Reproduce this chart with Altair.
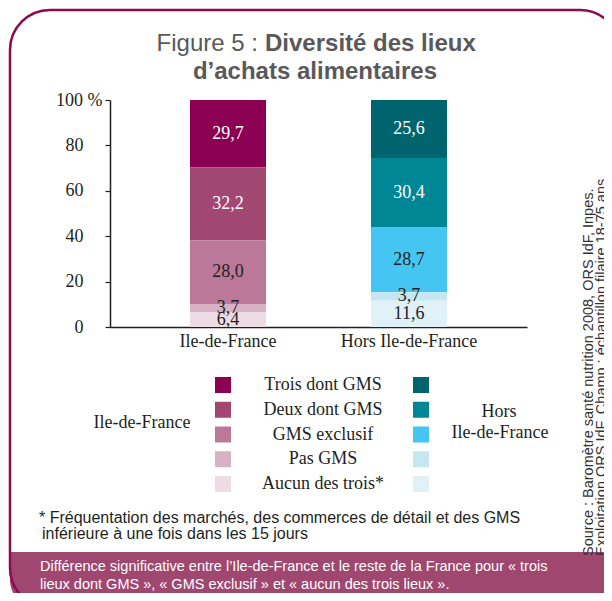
import altair as alt
import pandas as pd

# ---------------- data ----------------
REGIONS = ["Ile-de-France", "Hors Ile-de-France"]
CATEGORIES = ["Trois dont GMS", "Deux dont GMS", "GMS exclusif", "Pas GMS", "Aucun des trois*"]
IDF_VALUES = [29.7, 32.2, 28.0, 3.7, 6.4]
HORS_VALUES = [25.6, 30.4, 28.7, 3.7, 11.6]
IDF_COLORS = ["#8B0052", "#A14872", "#BC7898", "#D8B2C4", "#EEDCE4"]
HORS_COLORS = ["#00646E", "#008695", "#45C6F2", "#C6E6F0", "#E0F1F8"]
Y_TICKS = [0, 20, 40, 60, 80, 100]

TITLE_REG = "Figure 5 :"
TITLE_BOLD_1 = "Diversité des lieux"
TITLE_BOLD_2 = "d’achats alimentaires"
FOOT_1 = "* Fréquentation des marchés, des commerces de détail et des GMS"
FOOT_2 = "inférieure à une fois dans les 15 jours"
BAND_1 = "Différence significative entre l’Ile-de-France et le reste de la France pour « trois"
BAND_2 = "lieux dont GMS », « GMS exclusif » et « aucun des trois lieux »."
SOURCE_1 = "Source : Baromètre santé nutrition 2008, ORS IdF, Inpes."
SOURCE_2 = "Exploitation ORS IdF. Champ : échantillon filaire 18-75 ans"

rows = []
for region, vals in zip(REGIONS, [IDF_VALUES, HORS_VALUES]):
    for i, (cat, v) in enumerate(zip(CATEGORIES, vals)):
        rows.append({"region": region, "cat": cat, "value": v,
                     "rank": len(CATEGORIES) - 1 - i, "key": region + "|" + cat})
df = pd.DataFrame(rows)

color_scale = alt.Scale(domain=[r + "|" + c for r in REGIONS for c in CATEGORIES],
                        range=IDF_COLORS + HORS_COLORS)

# ---------------- layout ----------------
W, H = 417, 227
OX, OY = 110, 100  # page position of the plot origin
TOTAL_W, TOTAL_H = 596, 585


def px(x):
    return x - OX


def py(y):
    return y - OY


SERIF = "Liberation Serif"
SANS = "Liberation Sans"
DARK = "#231F20"
FRAME = "#8B0A50"
BAND = "#A0476F"

one = pd.DataFrame({"d": [0]})


def txt(text, x, y, font=SANS, size=14, color=DARK, align="left", baseline="middle",
        weight="normal", angle=0):
    kw = dict(font=font, fontSize=size, color=color, align=align, baseline=baseline,
              fontWeight=weight)
    if angle:
        kw["angle"] = angle
    return alt.Chart(one).mark_text(**kw).encode(
        x=alt.value(px(x)), y=alt.value(py(y)), text=alt.value(text))


# background band and frame
band = alt.Chart(one).mark_rect(fill=BAND, cornerRadiusBottomLeft=40,
                                cornerRadiusBottomRight=40).encode(
    x=alt.value(px(10)), x2=alt.value(px(620)), y=alt.value(py(552)), y2=alt.value(py(608)))
frame = alt.Chart(one).mark_rect(filled=False, stroke=FRAME, strokeWidth=2.5,
                                 cornerRadius=40).encode(
    x=alt.value(px(10)), x2=alt.value(px(620)), y=alt.value(py(10)), y2=alt.value(py(608)))

# bars
x_enc = alt.X("region:N", sort=REGIONS,
              scale=alt.Scale(paddingInner=0.58, paddingOuter=0.442),
              axis=alt.Axis(title=None, labelAngle=0, ticks=False, labelFont=SERIF,
                            labelFontSize=18, labelColor=DARK, labelPadding=5,
                            domainColor=DARK, domainWidth=1.5))
y_axis = alt.Axis(title=None, values=Y_TICKS, grid=False, tickSize=5, tickColor=DARK,
                  tickWidth=1.2, domainColor=DARK, domainWidth=1.5,
                  labelFont=SERIF, labelFontSize=18, labelColor=DARK,
                  labelExpr="datum.value == 100 ? '100 %' : datum.label",
                  labelPadding={"condition": {"test": "datum.value == 100", "value": 3},
                                "value": 22})
yscale = alt.Scale(domain=[0, 100], nice=False)

bars = alt.Chart(df).mark_bar().encode(
    x=x_enc,
    y=alt.Y("value:Q", stack="zero", scale=yscale, axis=y_axis),
    color=alt.Color("key:N", scale=color_scale, legend=None),
    order=alt.Order("rank:Q", sort="ascending"),
)
labels = alt.Chart(df).transform_stack(
    stack="value", groupby=["region"], sort=[alt.SortField("rank", order="ascending")],
    as_=["v0", "v1"]
).transform_calculate(
    mid="(datum.v0 + datum.v1) / 2",
    lbl="replace(format(datum.value, '.1f'), '.', ',')",
).mark_text(font=SERIF, fontSize=18, baseline="middle").encode(
    x=alt.X("region:N", sort=REGIONS),
    y=alt.Y("mid:Q", scale=yscale),
    text="lbl:N",
    color=alt.condition("datum.rank >= 3", alt.value("white"), alt.value(DARK)),
)
barlayer = alt.layer(bars, labels)

# legend
leg_y = alt.Y("cat:N", scale=alt.Scale(type="point", domain=CATEGORIES,
                                       range=[py(385), py(484)], padding=0), axis=None)
leg_idf = alt.Chart(df[df.region == REGIONS[0]]).mark_square(size=256, opacity=1).encode(
    x=alt.value(px(223)), y=leg_y,
    color=alt.Color("key:N", scale=color_scale, legend=None))
leg_hors = alt.Chart(df[df.region == REGIONS[1]]).mark_square(size=256, opacity=1).encode(
    x=alt.value(px(421)), y=leg_y,
    color=alt.Color("key:N", scale=color_scale, legend=None))
leg_txt = alt.Chart(pd.DataFrame({"cat": CATEGORIES})).mark_text(
    font=SERIF, fontSize=18, color=DARK, baseline="middle", align="center").encode(
    x=alt.value(px(323)), y=leg_y, text="cat:N")

layers = [
    band, frame,
    txt(TITLE_REG, 258, 51, size=24, color="#595959", align="right", baseline="alphabetic"),
    txt(TITLE_BOLD_1, 265, 51, size=24, color="#595959", weight="bold", baseline="alphabetic"),
    txt(TITLE_BOLD_2, 315, 79, size=24, color="#595959", weight="bold", align="center",
        baseline="alphabetic"),
    barlayer,
    leg_idf, leg_hors, leg_txt,
    txt(REGIONS[0], 142, 423, font=SERIF, size=18, align="center"),
    txt("Hors", 499, 412, font=SERIF, size=18, align="center"),
    txt("Ile-de-France", 500, 433, font=SERIF, size=18, align="center"),
    txt(FOOT_1, 39, 518, size=16),
    txt(FOOT_2, 42, 534, size=16),
    txt(BAND_1, 40, 567, size=14.5, color="white"),
    txt(BAND_2, 40, 585, size=14.5, color="white"),
    txt(SOURCE_1, 589, 556, size=14.5, color="#333333", angle=270),
    txt(SOURCE_2, 602, 556, size=14.5, color="#333333", angle=270),
]

chart = alt.layer(*layers).resolve_scale(y="independent").properties(
    width=W, height=H,
    padding={"left": OX - 8, "top": OY - 8, "right": TOTAL_W - (OX - 8) - W,
             "bottom": TOTAL_H - (OY - 8) - H},
    autosize=alt.AutoSizeParams(type="none"),
).configure_view(strokeWidth=0)

chart.save("out.html", embed_options={"renderer": "svg", "actions": False})
